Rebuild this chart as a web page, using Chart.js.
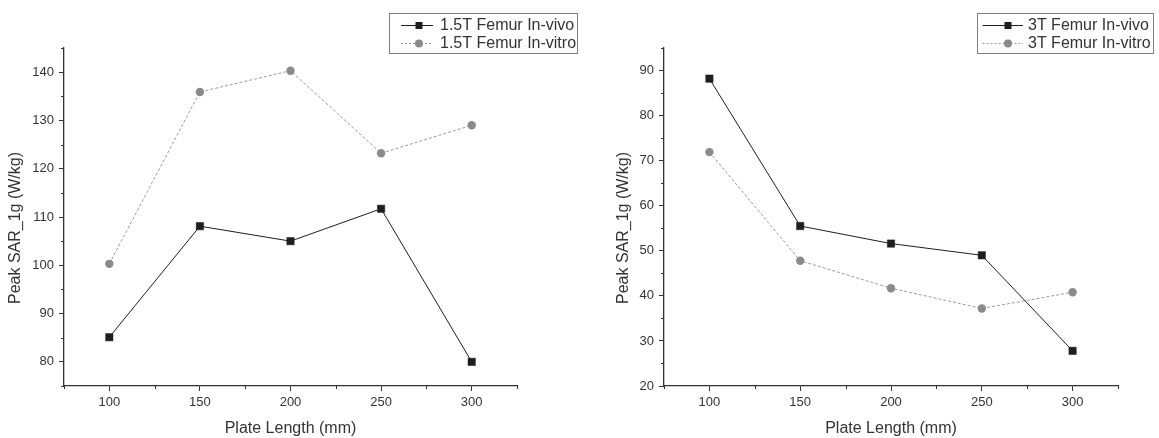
<!DOCTYPE html>
<html><head><meta charset="utf-8">
<script src="https://cdn.jsdelivr.net/npm/chart.js@4"></script>
<style>
html,body{margin:0;padding:0;background:#fff;}
#wrap{position:relative;width:1159px;height:438px;background:#fff;}
.box{position:absolute;top:0;height:438px;}
#b1{left:0;width:580px;}
#b2{left:580px;width:579px;}
</style></head><body>
<div id="wrap"><div class="box" id="b1"><canvas id="c1"></canvas></div><div class="box" id="b2"><canvas id="c2"></canvas></div></div>
<script>
// ---- data ----
const plateLength = [100, 150, 200, 250, 300];
const vivo15  = [85.1, 108.1, 105.0, 111.7, 80.0];
const vitro15 = [100.3, 135.9, 140.3, 123.2, 129.0];
const vivo3   = [88.2, 55.5, 51.6, 49.0, 27.8];
const vitro3  = [71.9, 47.8, 41.7, 37.2, 40.8];
const legend15 = ['1.5T Femur In-vivo', '1.5T Femur In-vitro'];
const legend3  = ['3T Femur In-vivo', '3T Femur In-vitro'];
const xTitle = 'Plate Length (mm)';
const yTitle = 'Peak SAR_1g (W/kg)';
const xMajor = [100, 150, 200, 250, 300];

// ---- styles ----
const FONT = "'Liberation Sans', Arial, sans-serif";
const AXIS = '#333333';
const TXT = '#333333';
const VIVO = '#1e1e1e';
const VITRO_LINE = '#9a9a9a';
const VITRO_PT = '#8a8a8a';

function pts(ys){ return plateLength.map((x,i)=>({x:x, y:ys[i]})); }

function decor(cfg){
  return {
    id:'decor',
    afterDraw(chart){
      const ctx = chart.ctx;
      const {left, bottom} = chart.chartArea;
      const xs = chart.scales.x, ys = chart.scales.y;
      ctx.save();
      // minor ticks
      ctx.strokeStyle = AXIS; ctx.lineWidth = 1;
      ctx.beginPath();
      xs.ticks.forEach(t=>{
        if (t.value % 50 !== 0){
          const px = Math.round(xs.getPixelForValue(t.value)) + 0.5;
          ctx.moveTo(px, bottom); ctx.lineTo(px, bottom + 3);
        }
      });
      ys.ticks.forEach(t=>{
        if (t.value % 10 !== 0){
          const py = Math.round(ys.getPixelForValue(t.value)) + 0.5;
          ctx.moveTo(left - 3, py); ctx.lineTo(left, py);
        }
      });
      ctx.stroke();
      // y title
      ctx.save();
      ctx.translate(cfg.yTitleX, cfg.yTitleY);
      ctx.rotate(-Math.PI/2);
      ctx.font = '16px ' + FONT;
      ctx.fillStyle = TXT;
      ctx.textAlign = 'center';
      ctx.textBaseline = 'middle';
      ctx.fillText(yTitle, 0, 0);
      ctx.restore();
      // legend
      const L = cfg.legend;
      ctx.strokeStyle = '#808080'; ctx.lineWidth = 1; ctx.setLineDash([]);
      ctx.strokeRect(L.x0 + 0.5, L.y0 + 0.5, L.x1 - L.x0, L.y1 - L.y0);
      ctx.font = '16px ' + FONT;
      ctx.fillStyle = TXT;
      ctx.textAlign = 'left';
      ctx.textBaseline = 'middle';
      // row 1
      let y = L.r1;
      ctx.strokeStyle = VIVO; ctx.lineWidth = 1;
      ctx.beginPath(); ctx.moveTo(L.lx0, y + 0.5); ctx.lineTo(L.lx1, y + 0.5); ctx.stroke();
      ctx.fillStyle = VIVO; ctx.fillRect(L.mx - 3.5, y - 3, 7, 7);
      ctx.fillStyle = TXT; ctx.fillText(cfg.labels[0], L.tx, y + 1);
      // row 2
      y = L.r2;
      ctx.strokeStyle = VITRO_LINE; ctx.setLineDash([2, 2]);
      ctx.beginPath(); ctx.moveTo(L.lx0, y + 0.5); ctx.lineTo(L.lx1, y + 0.5); ctx.stroke();
      ctx.setLineDash([]);
      ctx.fillStyle = VITRO_PT; ctx.beginPath(); ctx.arc(L.mx, y + 0.5, 4, 0, Math.PI*2); ctx.fill();
      ctx.fillStyle = TXT; ctx.fillText(cfg.labels[1], L.tx, y + 1);
      ctx.restore();
    }
  };
}

function makeChart(id, vivo, vitro, yMin, yMax, padL, padR, yWidth, cfg){
  return new Chart(document.getElementById(id), {
    type: 'line',
    data: {
      datasets: [
        { label: cfg.labels[0], data: pts(vivo), borderColor: VIVO, backgroundColor: VIVO,
          borderWidth: 1, pointStyle: 'rect', pointRadius: 5.2, pointBorderWidth: 0.5,
          pointBackgroundColor: VIVO, pointBorderColor: VIVO, tension: 0 },
        { label: cfg.labels[1], data: pts(vitro), borderColor: VITRO_LINE, backgroundColor: VITRO_PT,
          borderWidth: 1, borderDash: [3, 2], pointStyle: 'circle', pointRadius: 4.2, pointBorderWidth: 0,
          pointBackgroundColor: VITRO_PT, pointBorderColor: VITRO_PT, tension: 0 }
      ]
    },
    options: {
      responsive: true, maintainAspectRatio: false, animation: false,
      layout: { padding: { left: padL, right: padR, top: 48, bottom: 0 } },
      plugins: { legend: { display: false }, tooltip: { enabled: false } },
      scales: {
        x: {
          type: 'linear', min: 75, max: 325,
          afterFit(s){ s.height = 52; },
          border: { display: true, color: AXIS, width: 1.3 },
          grid: { drawOnChartArea: false, drawTicks: true, tickLength: 5,
                  tickColor: c => (c.tick && c.tick.value % 50 === 0) ? AXIS : 'rgba(0,0,0,0)', tickWidth: 1 },
          ticks: { stepSize: 25, autoSkip: false, maxRotation: 0, padding: 4, color: TXT,
                   font: { family: FONT, size: 13 },
                   callback: v => xMajor.includes(v) ? String(v) : '' },
          title: { display: true, text: xTitle, color: TXT, font: { family: FONT, size: 16 },
                   padding: { top: 0, bottom: 0 } }
        },
        y: {
          type: 'linear', min: yMin, max: yMax,
          afterFit(s){ s.width = yWidth; },
          border: { display: true, color: AXIS, width: 1.3 },
          grid: { drawOnChartArea: false, drawTicks: true, tickLength: 5,
                  tickColor: c => (c.tick && c.tick.value % 10 === 0) ? AXIS : 'rgba(0,0,0,0)', tickWidth: 1 },
          ticks: { stepSize: 5, autoSkip: false, padding: 5, color: TXT,
                   font: { family: FONT, size: 13 },
                   callback: v => (v % 10 === 0) ? String(v) : '' },
          title: { display: false }
        }
      }
    },
    plugins: [decor(cfg)]
  });
}

makeChart('c1', vivo15, vitro15, 75, 145, 6, 63, 58, {
  labels: legend15, yTitleX: 15.7, yTitleY: 228,
  legend: { x0: 389, y0: 13, x1: 577, y1: 53, lx0: 401, lx1: 433, mx: 419, tx: 440, r1: 25, r2: 43 }
});
makeChart('c2', vivo3, vitro3, 20, 95, 34, 41, 50, {
  labels: legend3, yTitleX: 43.5, yTitleY: 228,
  legend: { x0: 397, y0: 13, x1: 573, y1: 53, lx0: 402.5, lx1: 443, mx: 428, tx: 448, r1: 25, r2: 43 }
});
</script>
</body></html>
